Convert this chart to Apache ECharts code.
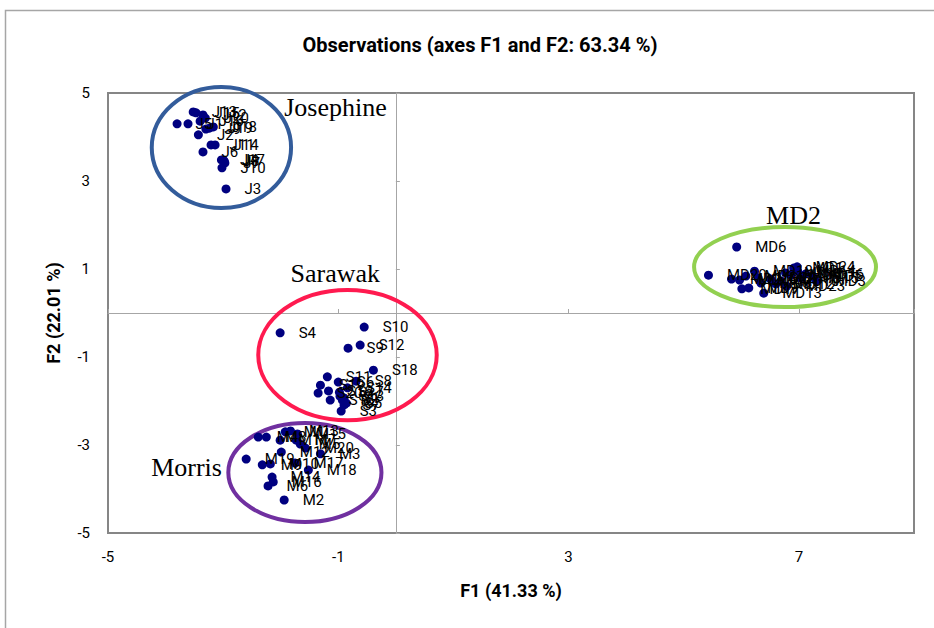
<!DOCTYPE html>
<html><head><meta charset="utf-8">
<script src="https://cdn.jsdelivr.net/npm/echarts@6/dist/echarts.min.js"></script>
<style>html,body{margin:0;padding:0;background:#fff}#c{width:934px;height:628px}</style>
</head><body><div id="c"></div>
<script>
// ---- axis ticks / ranges ----
const xTicks = [-5, -1, 3, 7];
const yTicks = [-5, -3, -1, 1, 3, 5];
const xRange = [-5, 9];
const yRange = [-5, 5];

// ---- Josephine ----
const josephineLabels = ['J1','J2','J3','J4','J5','J6','J7','J8','J9','J10','J11','J12','J13','J14','J15','J16','J17','J18','J19','J20'];
const josephineX = [-3.61,-3.43,-2.95,-3.00,-3.80,-3.35,-2.97,-2.98,-3.30,-3.02,-3.21,-3.35,-3.52,-3.14,-3.47,-3.40,-3.03,-3.17,-3.24,-3.31];
const josephineY = [4.30,4.05,2.82,3.48,4.30,3.66,3.41,3.45,4.18,3.30,3.82,4.50,4.57,3.82,4.55,4.36,3.48,4.23,4.20,4.43];

// ---- Sarawak ----
const sarawakLabels = ['S1','S2','S3','S4','S5','S6','S7','S8','S9','S10','S11','S12','S13','S14','S15','S16','S17','S18','S19','S20'];
const sarawakX = [-0.90,-0.93,-0.95,-2.01,-0.86,-1.00,-0.90,-0.69,-0.83,-0.55,-1.19,-0.62,-0.97,-0.84,-1.14,-1.17,-0.98,-0.39,-1.31,-1.35];
const sarawakY = [-1.93,-1.98,-2.23,-0.45,-2.05,-1.57,-2.09,-1.55,-0.80,-0.32,-1.45,-0.73,-1.89,-1.70,-1.98,-1.77,-1.80,-1.30,-1.64,-1.82];

// ---- Morris ----
const morrisLabels = ['M1','M2','M3','M4','M5','M6','M7','M8','M9','M10','M11','M12','M13','M14','M15','M16','M17','M18','M19','M20'];
const morrisX = [-1.92,-1.94,-1.31,-2.39,-1.66,-2.22,-1.73,-2.25,-2.32,-2.18,-2.01,-1.99,-1.83,-2.15,-1.71,-2.13,-1.75,-1.52,-2.60,-1.57];
const morrisY = [-2.70,-4.25,-3.20,-2.82,-2.98,-3.93,-2.89,-2.82,-3.45,-3.43,-2.89,-3.16,-2.68,-3.73,-2.75,-3.84,-3.41,-3.57,-3.32,-3.07];

// ---- MD2 ----
const md2Labels = ['MD1','MD2','MD3','MD4','MD5','MD6','MD7','MD8','MD9','MD10','MD11','MD12','MD13','MD14','MD15','MD16','MD17','MD18','MD19','MD20','MD21','MD22','MD23','MD24'];
const md2X = [6.91,5.83,7.30,6.86,7.24,5.92,6.51,6.34,6.13,6.69,6.77,6.60,6.39,6.98,7.03,7.12,6.01,6.23,5.97,5.43,6.08,6.29,6.79,6.97];
const md2Y = [1.02,0.77,0.73,0.86,0.84,1.50,0.77,0.68,0.57,0.73,0.91,0.66,0.45,0.95,0.80,0.89,0.55,0.95,0.75,0.86,0.84,0.80,0.61,1.05];

// ---- group annotations (data units) ----
const groupNames = ['Josephine', 'Sarawak', 'Morris', 'MD2'];
const groupNameAnchors = [[-1.94, 4.66], [-1.83, 0.89], [-4.25, -3.52], [6.43, 2.22]];
const groupEllipses = [[-3.03, 3.76, 1.21, 1.375], [-0.84, -0.955, 1.55, 1.48], [-1.58, -3.625, 1.33, 1.125], [6.76, 1.045, 1.58, 0.91]];
const groupColors = ['#335C9B', '#FF1A4F', '#7030A0', '#92D050'];

const FONT = "Roboto, 'Open Sans', sans-serif";

function pts(xs, ys, names) {
  return xs.map((x, i) => ({ value: [x, ys[i]], name: names[i] }));
}
function scatter(name, data) {
  return {
    name, type: 'scatter', data, symbol: 'circle', symbolSize: 9,
    itemStyle: { color: '#000080', opacity: 1 },
    label: { show: true, position: 'right', distance: 14, formatter: '{b}', color: '#000', fontSize: 15, fontFamily: FONT },
    emphasis: { disabled: true }
  };
}

const chart = echarts.init(document.getElementById('c'), null, { renderer: 'svg' });
const xInt = xTicks[1] - xTicks[0];
const yInt = yTicks[1] - yTicks[0];
chart.setOption({
  animation: false,
  backgroundColor: '#fff',
  grid: { left: 108, top: 93, right: 20, bottom: 95, show: true, borderColor: '#868686', borderWidth: 2, backgroundColor: 'transparent' },
  xAxis: [
    { type: 'value', min: xRange[0], max: xRange[1], interval: xInt, position: 'bottom',
      axisLine: { show: false, onZero: false }, axisTick: { show: false }, splitLine: { show: false },
      axisLabel: { formatter: v => xTicks.includes(v) ? String(v) : '', color: '#000', fontSize: 15, margin: 16, fontFamily: FONT },
      name: 'F1 (41.33 %)', nameLocation: 'middle', nameGap: 48,
      nameTextStyle: { fontWeight: 'bold', fontSize: 18, color: '#000', fontFamily: FONT } },
    { type: 'value', min: xRange[0], max: xRange[1], interval: xInt, position: 'top',
      axisLine: { show: true, onZero: true, onZeroAxisIndex: 0, lineStyle: { color: '#A6A6A6', width: 1 } },
      axisTick: { show: true, length: 4, lineStyle: { color: '#A6A6A6' } },
      axisLabel: { show: false }, splitLine: { show: false } }
  ],
  yAxis: [
    { type: 'value', min: yRange[0], max: yRange[1], interval: yInt, position: 'left',
      axisLine: { show: false, onZero: false }, axisTick: { show: false }, splitLine: { show: false },
      axisLabel: { formatter: v => yTicks.includes(v) ? String(v) : '', color: '#000', fontSize: 15, margin: 18, fontFamily: FONT },
      name: 'F2 (22.01 %)', nameLocation: 'middle', nameGap: 46,
      nameTextStyle: { fontWeight: 'bold', fontSize: 18, color: '#000', fontFamily: FONT } },
    { type: 'value', min: yRange[0], max: yRange[1], interval: yInt, position: 'right',
      axisLine: { show: true, onZero: true, onZeroAxisIndex: 0, lineStyle: { color: '#A6A6A6', width: 1 } },
      axisTick: { show: true, length: 4, lineStyle: { color: '#A6A6A6' } },
      axisLabel: { show: false }, splitLine: { show: false } }
  ],
  series: [
    scatter('Josephine', pts(josephineX, josephineY, josephineLabels)),
    scatter('Sarawak', pts(sarawakX, sarawakY, sarawakLabels)),
    scatter('Morris', pts(morrisX, morrisY, morrisLabels)),
    scatter('MD2', pts(md2X, md2Y, md2Labels))
  ]
});

// annotations positioned through the chart's own scales
const g = [];
g.push({ type: 'rect', shape: { x: 5.5, y: 10.5, width: 1000, height: 700 }, style: { fill: 'none', stroke: '#A6A6A6', lineWidth: 1.5 }, silent: true, z: -1 });
g.push({ type: 'text', x: 480, y: 45, style: { text: 'Observations (axes F1 and F2: 63.34 %)', align: 'center', verticalAlign: 'middle', font: "bold 20px " + FONT, fill: '#000' }, silent: true });
groupEllipses.forEach((e, i) => {
  const c = chart.convertToPixel({ gridIndex: 0 }, [e[0], e[1]]);
  const r = chart.convertToPixel({ gridIndex: 0 }, [e[0] + e[2], e[1] + e[3]]);
  g.push({ type: 'ellipse', shape: { cx: c[0], cy: c[1], rx: Math.abs(r[0] - c[0]), ry: Math.abs(c[1] - r[1]) },
    style: { fill: 'none', stroke: groupColors[i], lineWidth: 4 }, silent: true, z: 1 });
});
groupNames.forEach((n, i) => {
  const p = chart.convertToPixel({ gridIndex: 0 }, groupNameAnchors[i]);
  g.push({ type: 'text', x: p[0], y: p[1], style: { text: n, align: 'left', verticalAlign: 'middle', font: "26px 'Liberation Serif', 'Times New Roman', serif", fill: '#000' }, silent: true, z: 3 });
});
chart.setOption({ graphic: g });
</script>
</body></html>
